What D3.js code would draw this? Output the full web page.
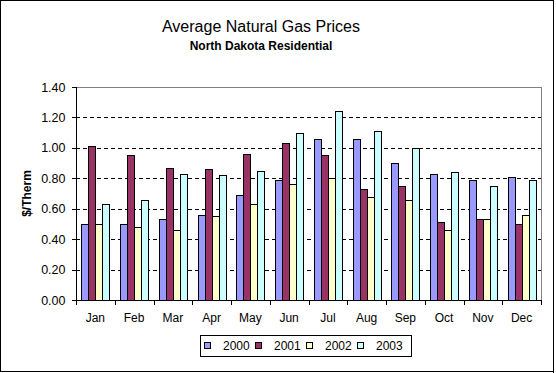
<!DOCTYPE html>
<html>
<head>
<meta charset="utf-8">
<script src="https://cdn.jsdelivr.net/npm/d3@7"></script>
<style>
  html, body { margin: 0; padding: 0; background: #fff; }
  svg { display: block; }
  text { font-family: Arial, "Liberation Sans", sans-serif; }
</style>
</head>
<body>
<svg id="chart" width="556" height="373"></svg>
<script>
const months = ["Jan","Feb","Mar","Apr","May","Jun","Jul","Aug","Sep","Oct","Nov","Dec"];
const years = ["2000","2001","2002","2003"];
const s2000 = [0.50,0.50,0.53,0.56,0.69,0.79,1.06,1.06,0.90,0.83,0.79,0.81];
const s2001 = [1.01,0.95,0.87,0.86,0.96,1.03,0.95,0.73,0.75,0.51,0.53,0.50];
const s2002 = [0.50,0.48,0.46,0.55,0.63,0.76,0.80,0.68,0.66,0.46,0.53,0.56];
const s2003 = [0.63,0.66,0.83,0.82,0.85,1.10,1.24,1.11,1.00,0.84,0.75,0.79];
const yTicks = [0,0.2,0.4,0.6,0.8,1.0,1.2,1.4];
const colors = ["#9999FF","#993366","#FFFFCC","#CCFFFF"];
const seriesValues = [s2000, s2001, s2002, s2003];

const svg = d3.select("#chart");
const plot = {left: 76, right: 541, top: 87, bottom: 300};

// outer border
svg.append("rect").attr("x",0.5).attr("y",0.5).attr("width",553).attr("height",371)
  .attr("fill","#fff").attr("stroke","#000").attr("stroke-width",1);
svg.append("line").attr("x1",553.5).attr("x2",553.5).attr("y1",0).attr("y2",373).attr("stroke","#000").attr("stroke-width",1);
svg.append("line").attr("x1",0).attr("x2",554).attr("y1",371.5).attr("y2",371.5).attr("stroke","#000").attr("stroke-width",1);

const x = d3.scaleBand().domain(months).range([plot.left, plot.right])
  .paddingInner(1.5/5.5).paddingOuter(0.75/5.5);
const xs = d3.scaleBand().domain(years).range([0, x.bandwidth()]);
const y = d3.scaleLinear().domain([0,1.4]).range([plot.bottom, plot.top]);

// gridlines
svg.append("g").selectAll("line").data(yTicks.filter(t => t > 0 && t < 1.4)).join("line")
  .attr("x1", plot.left).attr("x2", plot.right)
  .attr("y1", d => Math.round(y(d)) + 0.5).attr("y2", d => Math.round(y(d)) + 0.5)
  .attr("stroke","#000").attr("stroke-dasharray","4,3").attr("shape-rendering","crispEdges");

// plot border top & right (gray)
svg.append("path")
  .attr("d", `M${plot.left},${plot.top+0.5}H${plot.right+0.5}V${plot.bottom}`)
  .attr("fill","none").attr("stroke","#808080").attr("shape-rendering","crispEdges");

// bars
const data = [];
months.forEach((m, i) => years.forEach((yr, j) => data.push({m, yr, j, v: seriesValues[j][i]})));
svg.append("g").selectAll("rect").data(data).join("rect")
  .attr("x", d => Math.round(x(d.m) + xs(d.yr)) + 0.5)
  .attr("y", d => Math.round(y(d.v)) + 0.5)
  .attr("width", d => Math.round(x(d.m) + xs(d.yr) + xs.bandwidth()) - Math.round(x(d.m) + xs(d.yr)))
  .attr("height", d => Math.round(y(0)) - Math.round(y(d.v)))
  .attr("fill", d => colors[d.j]).attr("stroke","#000").attr("stroke-width",1)
  .attr("shape-rendering","crispEdges");

// y axis
const yAxis = d3.axisLeft(y).tickValues(yTicks).tickFormat(d3.format(".2f")).tickSize(5).tickPadding(6);
const gy = svg.append("g").attr("transform", `translate(${plot.left+0.5},0)`).call(yAxis);
gy.select(".domain").attr("d", `M0,${plot.top}V${plot.bottom+0.5}`).attr("stroke","#000");
gy.selectAll(".tick line").attr("stroke","#000").attr("shape-rendering","crispEdges");
gy.selectAll(".tick text").attr("font-size","12.5px").attr("fill","#000")
  .style("font-family","Arial, 'Liberation Sans', sans-serif");

// x axis: ticks at category boundaries
const boundaries = months.map(m => x(m) - x.step()*x.paddingInner()/2);
boundaries.push(plot.right);
svg.append("line").attr("x1", plot.left).attr("x2", plot.right+1)
  .attr("y1", plot.bottom+0.5).attr("y2", plot.bottom+0.5).attr("stroke","#000");
svg.append("g").selectAll("line").data(boundaries).join("line")
  .attr("x1", d => Math.round(d)+0.5).attr("x2", d => Math.round(d)+0.5)
  .attr("y1", plot.bottom).attr("y2", plot.bottom+5).attr("stroke","#000");
svg.append("g").selectAll("text").data(months).join("text")
  .attr("x", d => x(d) + x.bandwidth()/2).attr("y", 322)
  .attr("text-anchor","middle").attr("font-size","12px").text(d => d);

// titles
svg.append("text").attr("x", 261).attr("y", 32).attr("text-anchor","middle")
  .attr("font-size","16px").text("Average Natural Gas Prices");
svg.append("text").attr("x", 261).attr("y", 50).attr("text-anchor","middle")
  .attr("font-size","12px").attr("font-weight","bold").text("North Dakota Residential");

// y label
svg.append("text").attr("transform", `translate(31,${(plot.top+plot.bottom)/2}) rotate(-90)`)
  .attr("text-anchor","middle").attr("font-size","12px").attr("font-weight","bold").text("$/Therm");

// legend
const lg = svg.append("g");
lg.append("rect").attr("x", 200.5).attr("y", 335.5).attr("width", 211).attr("height", 21)
  .attr("fill","#fff").attr("stroke","#000");
const step = 51;
const items = lg.selectAll("g.item").data(years).join("g").attr("class","item")
  .attr("transform", (d,i) => `translate(${204 + i*step},0)`);
items.append("rect").attr("x",0.5).attr("y",342.5).attr("width",6).attr("height",6)
  .attr("fill",(d,i)=>colors[i]).attr("stroke","#000");
items.append("text").attr("x",19).attr("y",350).attr("font-size","12px").text(d => d);
</script>
</body>
</html>
